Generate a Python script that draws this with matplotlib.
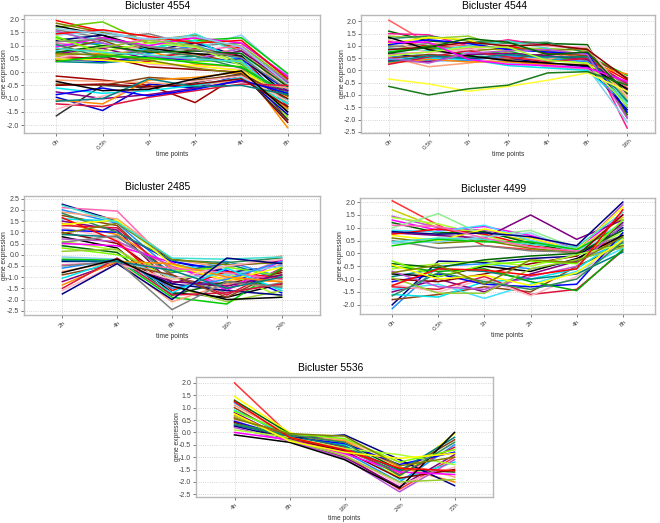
import matplotlib
matplotlib.use('Agg')
import matplotlib.pyplot as plt
from matplotlib.ticker import FormatStrFormatter, MultipleLocator

plt.rcParams['font.family'] = ['Liberation Sans', 'DejaVu Sans']
plt.rcParams['axes.unicode_minus'] = False

# time points of each bicluster
t_4554 = ['0h', '0.5h', '1h', '2h', '4h', '8h']
t_4544 = ['0h', '0.5h', '1h', '2h', '4h', '8h', '16h']
t_2485 = ['2h', '4h', '8h', '16h', '24h']
t_4499 = ['0h', '0.5h', '1h', '2h', '4h', '8h']
t_5536 = ['4h', '8h', '16h', '24h', '72h']

# expression profiles (one list per gene)
expr_4554 = [
    [1.95, 1.55, 1.1, 1.3, 0.9, -0.4],
    [1.7, 1.9, 1.1, 1.2, 1.0, -0.3],
    [1.85, 1.5, 1.2, 1.4, 0.8, -0.5],
    [1.6, 1.3, 1.45, 1.0, 1.1, -0.2],
    [1.5, 1.2, 1.0, 1.45, 0.7, -0.9],
    [1.4, 1.55, 1.2, 0.9, 1.4, -0.1],
    [1.3, 1.0, 0.9, 1.2, 1.3, -0.05],
    [1.2, 1.4, 0.8, 1.1, 0.6, -1.2],
    [1.1, 0.9, 1.3, 0.8, 1.0, -0.6],
    [1.0, 1.1, 0.7, 1.0, 0.5, -1.5],
    [0.9, 0.8, 1.0, 0.6, 0.9, -0.8],
    [0.85, 1.2, 0.6, 0.7, 0.3, -1.8],
    [0.8, 0.6, 0.9, 1.2, 0.4, -1.0],
    [0.7, 0.9, 0.5, 0.5, 0.8, -0.4],
    [0.65, 0.7, 0.8, 0.3, 0.2, -2.1],
    [0.6, 0.5, 0.4, 0.9, 0.6, -1.3],
    [0.55, 0.8, 0.3, 0.2, 0.1, -1.6],
    [0.5, 0.4, 0.6, 0.4, 0.5, -0.7],
    [0.45, 0.6, 0.2, 0.1, 0.0, -1.9],
    [0.4, 0.35, 0.5, 0.6, 0.3, -1.1],
    [1.75, 1.4, 0.9, 0.7, 0.6, -0.9],
    [1.55, 1.1, 0.6, 0.5, 0.9, -0.35],
    [1.25, 0.8, 1.1, 0.95, 0.25, -1.4],
    [0.95, 1.3, 1.0, 1.3, 1.1, -0.15],
    [0.75, 1.0, 0.75, 0.8, 0.7, -0.55],
    [1.35, 0.7, 0.5, 0.4, 0.45, -1.7],
    [0.6, 0.95, 1.2, 1.0, 0.35, -1.2],
    [1.05, 0.55, 0.85, 0.6, 0.15, -0.75],
    [1.45, 1.6, 1.35, 1.1, 1.2, -0.25],
    [0.5, 0.45, 0.35, 0.25, 0.05, -0.95],
    [0.7, 0.65, 0.45, 0.15, -0.05, -1.35],
    [1.15, 1.25, 0.95, 0.85, 0.55, -0.65],
    [0.9, 0.75, 0.65, 0.5, 0.4, -1.05],
    [1.65, 1.45, 1.25, 1.35, 0.95, -0.45],
    [0.4, 0.6, 0.55, 0.35, 0.2, -0.85],
    [-0.15, -0.3, -0.5, -1.15, -0.05, -1.0],
    [-0.95, -1.45, -0.45, -0.6, -0.1, -1.6],
    [-1.65, -0.5, -0.6, -0.4, -0.05, -1.8],
    [-0.3, -0.35, -0.4, -0.5, -0.3, -0.6],
    [-0.45, -0.5, -0.2, -0.3, -0.1, -0.9],
    [-0.6, -0.8, -0.7, -0.5, -0.2, -1.2],
    [-0.75, -1.0, -0.85, -0.6, -0.35, -0.7],
    [-1.05, -1.2, -0.3, -0.2, 0.0, -1.4],
    [-1.2, -1.3, -0.95, -0.7, -0.45, -0.5],
    [-1.4, -0.9, -0.6, -0.35, -0.15, -1.1],
    [-0.85, -0.6, -0.9, -0.65, -0.3, -0.8],
    [-0.5, -0.45, -0.55, -0.45, -0.25, -1.3],
    [-1.1, -1.0, -0.25, -0.55, -0.5, -0.85],
    [-0.35, -0.7, -0.65, -0.25, 0.05, -1.5],
]

expr_4544 = [
    [2.05, 1.1, 1.0, 0.9, 0.8, 0.6, -0.7],
    [1.6, 1.2, 1.1, 1.2, 1.1, 1.05, -1.8],
    [1.5, 1.45, 1.0, 1.25, 1.0, 0.9, -2.35],
    [1.4, 1.3, 1.4, 0.9, 0.9, 0.8, -1.2],
    [1.3, 1.4, 1.2, 1.1, 1.15, 0.7, -1.5],
    [1.2, 1.0, 0.9, 1.0, 0.7, 0.5, -0.4],
    [1.1, 1.35, 1.25, 0.7, 0.5, 0.3, -1.0],
    [1.0, 0.9, 0.8, 0.9, 0.8, 0.9, -1.9],
    [0.95, 1.1, 0.7, 0.6, 0.6, 0.4, -0.6],
    [0.9, 0.8, 1.0, 1.2, 0.9, 0.2, -1.3],
    [0.8, 0.6, 0.75, 0.3, 0.2, 0.1, -2.1],
    [0.75, 1.0, 0.6, 0.8, 0.4, 0.6, -0.2],
    [0.7, 0.5, 0.5, 0.5, 0.3, 0.15, -1.6],
    [0.65, 0.75, 0.9, 0.4, 0.15, 0.05, -0.9],
    [0.6, 0.4, 0.4, 0.6, 0.5, 0.35, -0.5],
    [0.55, 0.15, 0.3, 0.5, 0.45, 0.8, -1.1],
    [0.5, 0.65, 0.55, 0.45, 0.7, 0.6, -0.3],
    [0.45, 0.5, 0.45, 0.2, 0.1, 0.0, -1.4],
    [0.4, 0.35, 0.65, 0.7, 0.6, 0.45, -0.8],
    [0.3, 0.45, 0.35, 0.35, 0.25, 0.25, -0.15],
    [0.25, 0.55, 0.8, 0.55, 0.35, 0.5, -0.55],
    [1.25, 0.7, 0.85, 1.05, 1.0, 0.95, -1.05],
    [1.05, 1.25, 1.1, 0.85, 0.75, 0.7, -1.7],
    [0.85, 0.95, 1.15, 1.0, 1.05, 0.85, -0.35],
    [0.35, 0.6, 0.5, 0.65, 0.55, 0.55, -1.25],
    [1.35, 0.85, 0.6, 0.4, 0.3, 0.2, -0.75],
    [0.5, 0.3, 0.7, 0.8, 0.85, 0.65, -1.95],
    [0.6, 0.75, 0.95, 0.95, 0.4, 0.3, -1.45],
    [1.15, 1.15, 0.45, 0.25, 0.2, 0.1, -0.45],
    [0.7, 0.95, 1.3, 1.15, 0.65, 0.75, -0.95],
    [-0.35, -0.55, -0.85, -0.65, -0.4, -0.1, -0.85],
    [-0.65, -1.0, -0.75, -0.6, -0.1, -0.05, -0.6],
]

expr_2485 = [
    [2.25, 1.5, -0.3, -0.8, -0.5],
    [2.1, 1.95, -0.5, -1.2, -0.2],
    [2.0, 1.4, -0.7, -0.3, -1.0],
    [1.9, 1.6, -0.2, -0.6, -0.05],
    [1.75, 1.3, -1.0, -1.5, -0.9],
    [1.6, 1.5, -0.4, -0.9, -1.5],
    [1.5, 1.1, -1.3, -0.5, -0.3],
    [1.4, 0.9, -0.6, -1.1, -1.2],
    [1.3, 1.2, -0.9, -1.8, -0.6],
    [1.2, 0.7, -1.5, -1.0, -0.4],
    [1.1, 1.0, -0.3, -0.7, -1.7],
    [1.0, 0.5, -1.2, -1.3, -0.8],
    [0.9, 0.8, -0.8, -0.4, -1.1],
    [0.8, 0.3, -1.7, -1.9, -1.3],
    [0.7, 0.6, -0.5, -1.4, -0.7],
    [0.6, 0.2, -1.1, -0.8, -1.9],
    [0.5, 0.4, -0.35, -1.6, -0.25],
    [0.4, 0.1, -1.8, -1.2, -1.4],
    [0.3, 0.0, -0.75, -0.55, -0.95],
    [0.15, 0.25, -1.4, -2.1, -1.6],
    [1.85, 1.0, -0.25, -0.35, -0.15],
    [1.65, 0.6, -1.6, -0.75, -1.05],
    [1.35, 1.55, -0.45, -1.15, -0.55],
    [0.95, 1.4, -0.2, -0.45, -0.35],
    [0.55, 0.85, -0.95, -1.7, -1.25],
    [2.2, 1.45, -0.15, -0.2, -0.1],
    [-0.1, -0.2, -1.0, -0.9, -0.5],
    [-0.2, -0.25, -1.9, -2.2, -0.6],
    [-0.3, -0.3, -1.3, -1.6, -1.8],
    [-0.45, -0.35, -0.6, -0.8, -1.1],
    [-0.6, -0.2, -1.5, -1.1, -0.3],
    [-0.75, -0.3, -2.1, -1.3, -1.4],
    [-0.9, -0.4, -0.9, -1.9, -0.7],
    [-1.05, -0.25, -1.7, -0.6, -1.6],
    [-1.2, -0.35, -1.2, -1.4, -0.9],
    [-1.35, -0.3, -0.4, -1.0, -1.2],
    [-1.5, -0.15, -1.8, -1.7, -1.3],
    [-1.6, -0.4, -1.1, -0.5, -0.2],
    [-1.75, -0.4, -2.0, -0.15, -0.4],
    [-0.5, -0.3, -2.45, -1.2, -1.45],
    [-0.25, -0.3, -0.7, -1.5, -1.0],
    [-0.8, -0.2, -1.4, -2.0, -1.9],
]

expr_4499 = [
    [2.05, 1.1, 0.3, 0.15, 0.05, 0.5],
    [1.7, 1.0, 0.8, 0.5, 0.1, 1.4],
    [1.45, 1.0, 0.9, 0.6, 0.1, 1.9],
    [1.4, 1.15, 0.7, 0.2, 0.05, 0.8],
    [1.3, 0.9, 1.05, 0.7, 0.2, 1.5],
    [1.2, 0.8, 0.85, 0.4, 0.05, 0.3],
    [1.0, 1.55, 0.7, 0.9, 0.2, 1.0],
    [0.9, 0.85, 1.1, 0.5, 0.1, 1.2],
    [0.8, 0.7, 0.6, 1.5, 0.55, 1.3],
    [0.75, 0.95, 0.75, 0.3, 0.05, 0.6],
    [0.7, 0.5, 0.95, 0.6, 0.15, 1.8],
    [0.6, 0.4, 0.5, 0.2, 0.0, 0.4],
    [0.5, 0.2, 0.3, 0.1, 0.05, 0.7],
    [0.45, 0.6, 0.55, 0.35, 0.25, 1.6],
    [0.4, 0.45, 0.65, 0.8, 0.1, 0.9],
    [0.3, 0.55, 0.45, 0.45, 0.15, 1.1],
    [0.85, 0.75, 0.8, 0.65, 0.3, 2.0],
    [1.1, 1.05, 0.6, 0.25, 0.1, 0.2],
    [-2.15, -0.5, -0.4, -0.6, -0.3, 0.4],
    [-2.0, -0.3, -0.35, -0.2, -0.1, 1.0],
    [-1.8, -1.6, -1.3, -1.5, -0.5, 0.3],
    [-1.6, -1.7, -1.1, -1.0, -0.6, 0.6],
    [-1.5, -1.0, -1.5, -0.8, -0.3, 1.2],
    [-1.4, -1.2, -1.75, -1.2, -0.7, 0.2],
    [-1.3, -1.4, -0.9, -1.6, -1.4, 0.1],
    [-1.2, -1.5, -1.0, -1.65, -0.9, 0.5],
    [-1.1, -0.8, -1.2, -1.3, -1.2, 0.8],
    [-1.0, -1.1, -0.8, -0.4, -0.1, 1.5],
    [-0.9, -0.6, -0.7, -1.0, -0.8, 0.05],
    [-0.8, -0.9, -0.5, -0.7, -0.2, 0.7],
    [-0.7, -1.3, -1.4, -0.9, -0.5, 1.1],
    [-0.6, -0.4, -0.3, -0.5, -0.05, 0.35],
    [-0.5, -0.7, -0.6, -1.1, -1.45, 0.15],
    [-0.4, -0.55, -0.25, -0.1, 0.0, 0.9],
    [-0.3, -0.9, -0.45, -0.3, -0.4, 1.3],
    [-0.95, -1.55, -1.55, -0.6, -0.25, 0.25],
    [-1.65, -0.75, -1.1, -1.4, -1.0, 0.45],
    [-1.25, -0.6, -0.65, -0.85, -0.6, 1.7],
    [-0.45, -1.0, -0.85, -1.25, -0.75, 0.55],
    [-0.75, -0.45, -1.2, -0.25, -0.35, 0.65],
]

expr_5536 = [
    [2.0, -0.1, -0.9, -2.3, -1.0],
    [1.45, 0.0, -0.6, -1.8, -0.05],
    [1.3, -0.05, -0.4, -1.5, -1.6],
    [1.2, -0.2, -0.8, -2.0, -0.5],
    [1.1, -0.1, -0.3, -1.2, -1.8],
    [1.0, -0.25, -0.7, -1.6, -0.3],
    [0.9, -0.15, -0.5, -1.9, -1.2],
    [0.8, -0.3, -1.0, -2.2, -0.9],
    [0.7, -0.2, -0.35, -1.4, -2.0],
    [0.6, -0.1, -0.6, -1.7, -0.6],
    [0.5, -0.35, -0.9, -2.1, -1.4],
    [0.45, -0.2, -0.45, -1.3, -0.8],
    [0.4, -0.3, -0.75, -1.85, -1.5],
    [0.3, -0.15, -0.55, -1.55, -0.2],
    [0.25, -0.25, -0.1, -1.1, -2.15],
    [0.2, -0.35, -1.05, -2.4, -1.1],
    [0.1, -0.2, -0.65, -0.9, -1.3],
    [0.0, -0.3, -0.85, -1.6, -1.7],
    [-0.1, -0.4, -1.1, -2.25, 0.0],
    [0.85, -0.05, -0.25, -1.2, -0.7],
    [0.65, -0.3, -0.95, -2.0, -1.9],
    [0.35, -0.1, -0.4, -1.75, -0.4],
    [1.25, -0.2, -0.7, -1.45, -1.55],
    [0.75, -0.35, -0.8, -1.05, -0.85],
    [0.55, -0.05, -0.15, -1.35, -1.0],
]

palette = ['#ff0000', '#0000ff', '#00cc00', '#ff00ff', '#00e5ee', '#ffff00',
           '#8b0000', '#000080', '#006400', '#800080', '#808000', '#008080',
           '#ff69b4', '#7cfc00', '#ff8c00', '#808080', '#000000', '#1e90ff',
           '#9acd32', '#dc143c', '#40e0d0', '#ba55d3', '#ffa07a', '#2e8b57',
           '#ffb6c1', '#87ceeb', '#adff2f', '#8b4513']

# a few profiles stand out in the picture with a known colour
hl_4554 = {1: '#66cc00', 35: '#a00000', 36: '#0000cd', 37: '#333333'}
hl_4544 = {0: '#ff6060', 2: '#ff1493', 30: '#ffff33', 31: '#1a7a1a'}
hl_2485 = {38: '#000080', 39: '#808080'}
hl_4499 = {0: '#ff3030', 1: '#cccc00', 6: '#90ee90', 7: '#40e0ff', 8: '#800080',
           19: '#000080', 23: '#40e0ff', 32: '#00aa00'}
hl_5536 = {0: '#ff3333', 1: '#ffff00', 2: '#006400', 14: '#000080', 18: '#000000'}

W, H = 660, 523
fig = plt.figure(figsize=(W / 100, H / 100), dpi=100)


def draw(left, top, width, height, title, times, profiles, ylim, offset, hl):
    ax = fig.add_axes([left / W, 1 - (top + height) / H, width / W, height / H])
    xs = list(range(len(times)))
    for i, prof in enumerate(profiles):
        c = hl.get(i, palette[(i * 5 + offset) % len(palette)])
        ax.plot(xs, prof, color=c, lw=1.1)
    ax.set_xlim(-0.7, len(times) - 1 + 0.7)
    ax.set_ylim(*ylim)
    ax.set_xticks(xs)
    ax.set_xticklabels(times, rotation=45, ha='center', va='top', fontsize=4.6)
    ax.yaxis.set_major_locator(MultipleLocator(0.5))
    ax.yaxis.set_major_formatter(FormatStrFormatter('%.1f'))
    ax.tick_params(axis='y', labelsize=5, length=2, width=0.5, pad=1.5, colors='#444444')
    ax.tick_params(axis='x', length=2, width=0.5, pad=1.5, colors='#444444')
    ax.grid(True, ls=':', color='#c8c8c8', lw=0.6)
    ax.set_axisbelow(True)
    for sp in ax.spines.values():
        sp.set_color('#b8b8b8')
        sp.set_linewidth(1.0)
    # title sits a little left of the plot centre, as in the original
    ax.set_title(title, fontsize=7.4, pad=4, x=0.5 - 14 / width)
    ax.set_xlabel('time points', fontsize=4.8, color='#333333')
    ax.set_ylabel('gene expression', fontsize=4.8, color='#333333')
    ax.xaxis.set_label_coords(0.5, -18 / height)
    ax.yaxis.set_label_coords(-15.5 / width, 0.5)
    return ax


draw(24, 15, 296, 118, 'Bicluster 4554', t_4554, expr_4554, (-2.3, 2.16), 0, hl_4554)
draw(361, 15, 294, 118, 'Bicluster 4544', t_4544, expr_4544, (-2.55, 2.26), 3, hl_4544)
draw(24, 196, 296, 119, 'Bicluster 2485', t_2485, expr_2485, (-2.69, 2.62), 7, hl_2485)
draw(360, 198, 295, 116, 'Bicluster 4499', t_4499, expr_4499, (-2.36, 2.16), 11, hl_4499)
draw(196, 377, 297, 120, 'Bicluster 5536', t_5536, expr_5536, (-2.61, 2.24), 2, hl_5536)

fig.savefig('out.png', dpi=100, facecolor='white')
